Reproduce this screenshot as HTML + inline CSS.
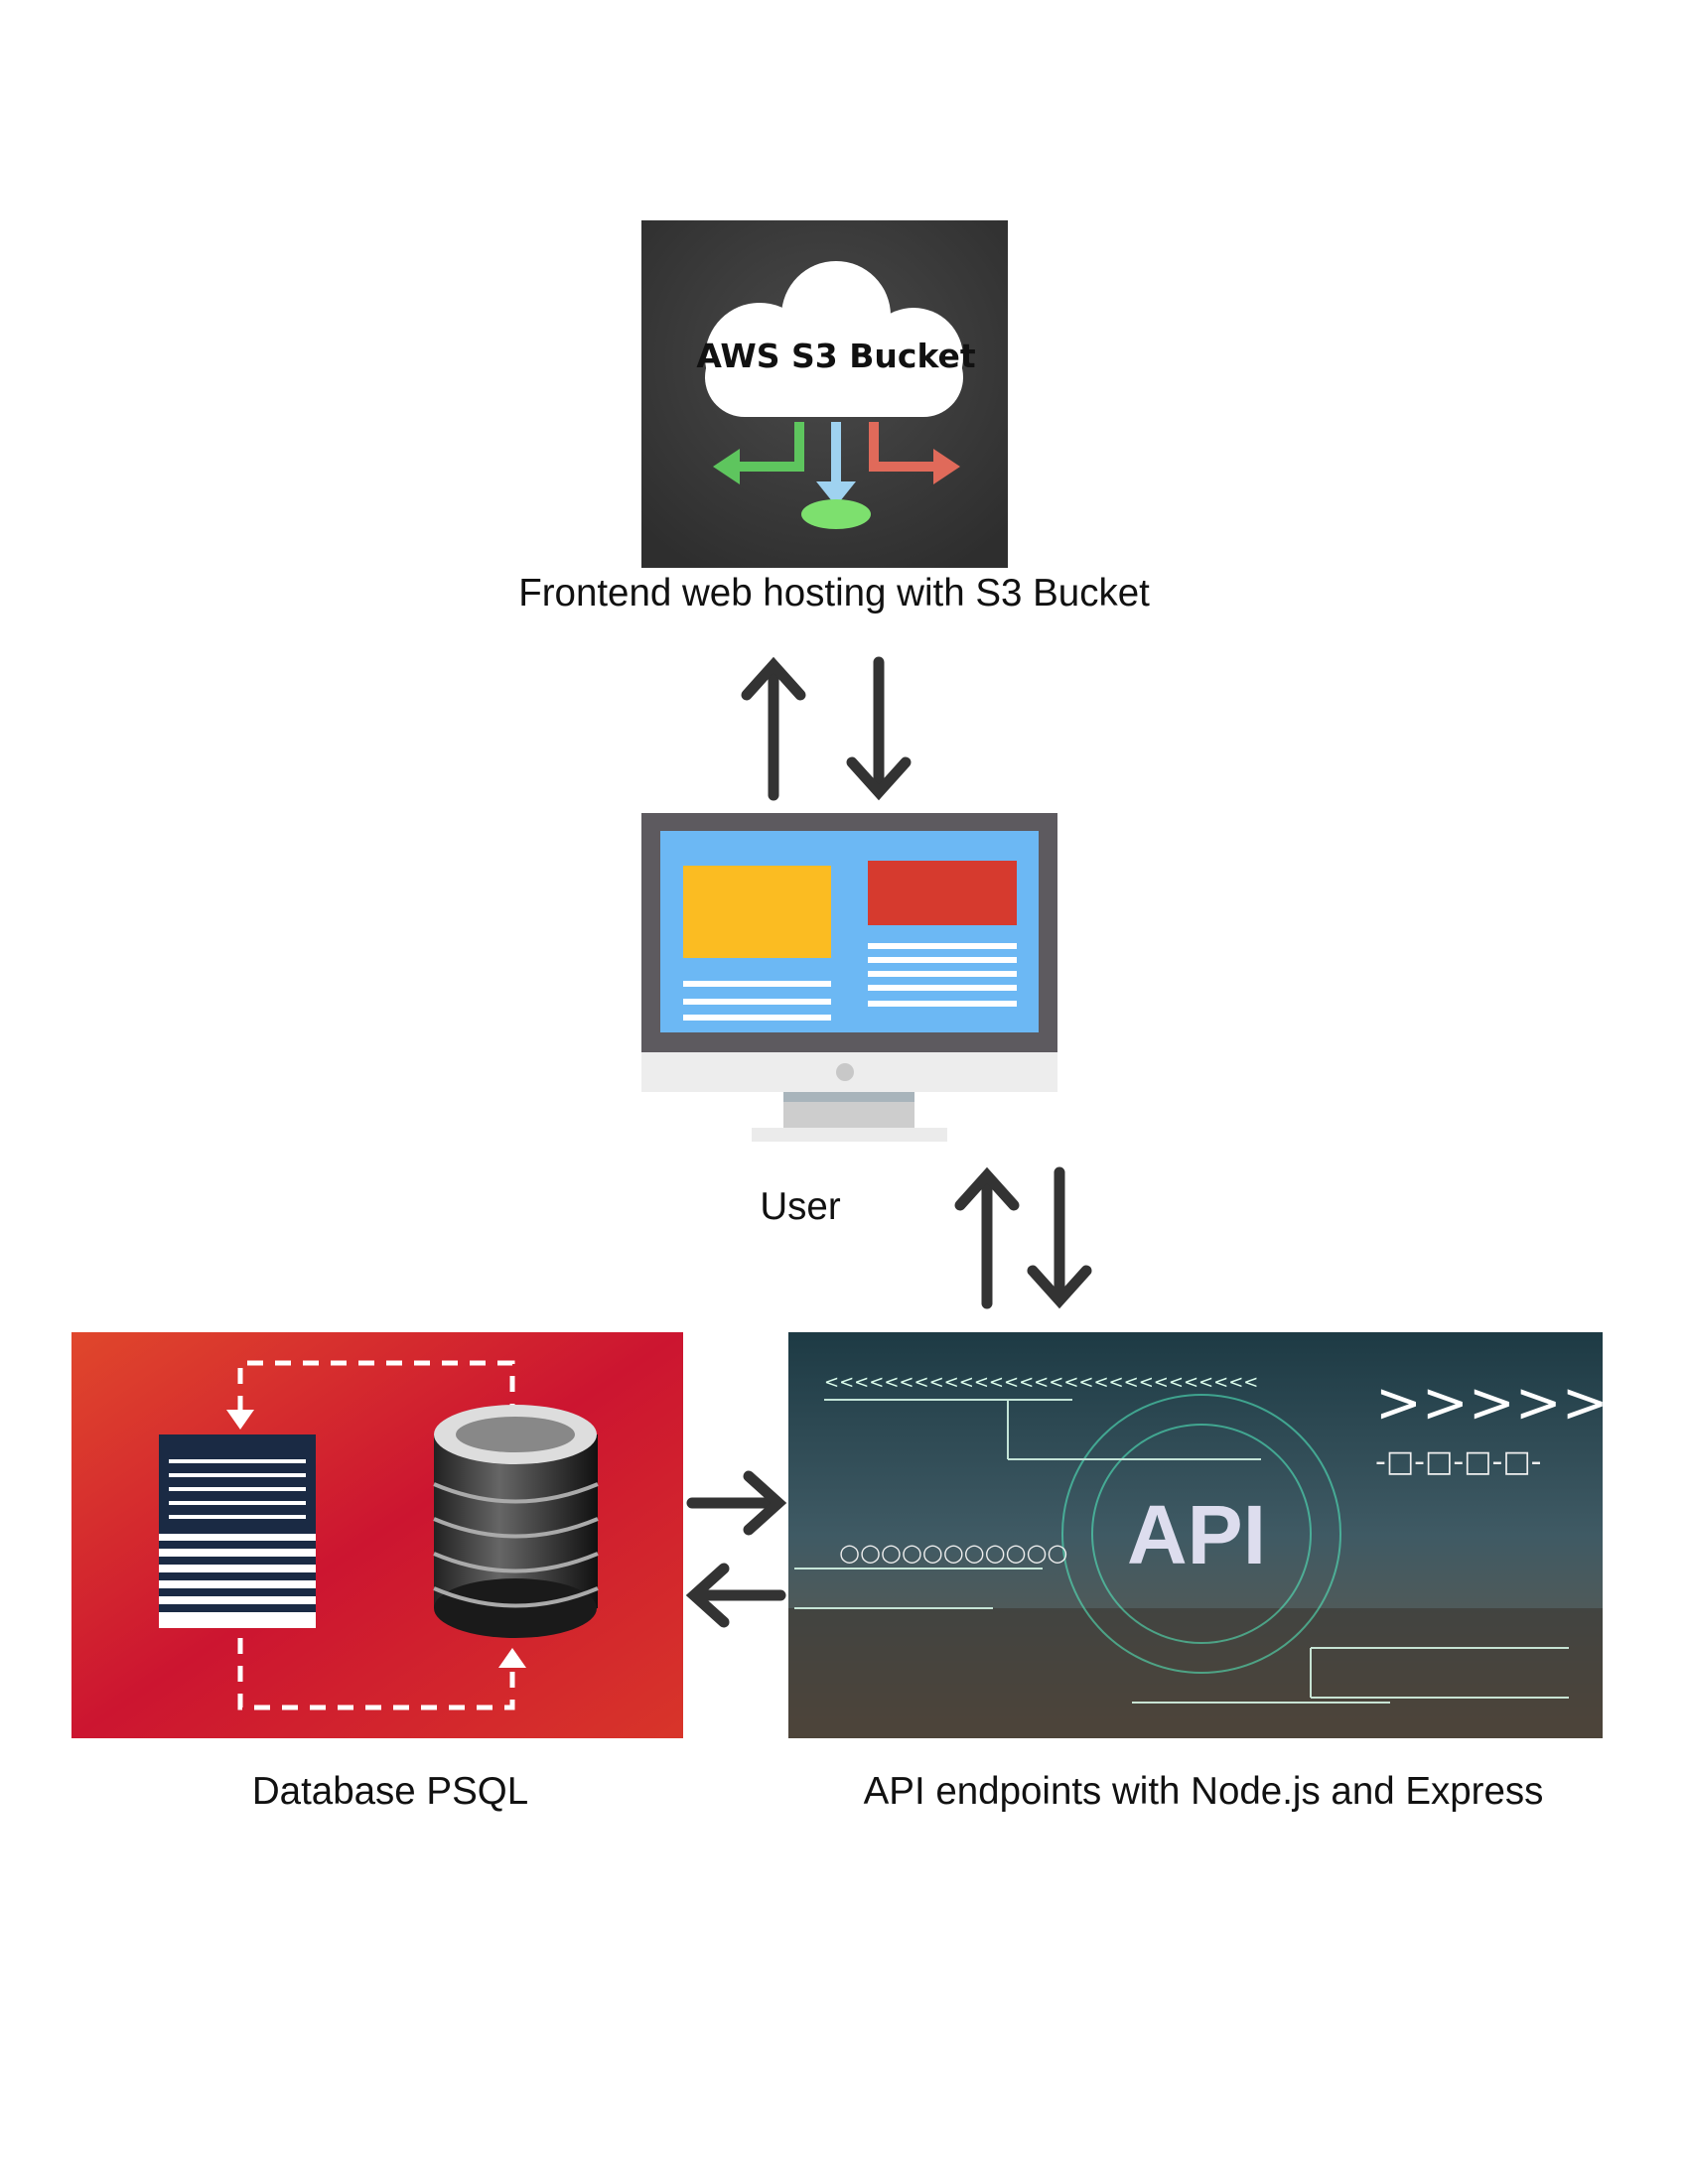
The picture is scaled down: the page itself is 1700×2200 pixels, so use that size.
<!DOCTYPE html>
<html><head><meta charset="utf-8"><style>
html,body{margin:0;padding:0;background:#fff;}
.lbl{position:absolute;font-family:"Liberation Sans",sans-serif;font-size:38.5px;color:#111;white-space:nowrap;transform:translateX(-50%);}
</style></head><body>
<div style="position:relative;width:1700px;height:2200px;overflow:hidden;">
<svg width="1700" height="2200" style="position:absolute;left:0;top:0">
<defs>
<radialGradient id="s3bg" cx="50%" cy="40%" r="70%"><stop offset="0" stop-color="#4a4a4a"/><stop offset="1" stop-color="#2e2e2e"/></radialGradient>
<linearGradient id="dbbg" x1="0" y1="0" x2="1" y2="1"><stop offset="0" stop-color="#e0472c"/><stop offset="0.5" stop-color="#cc1530"/><stop offset="1" stop-color="#d8352a"/></linearGradient>
<linearGradient id="apibg" x1="0" y1="0" x2="0" y2="1"><stop offset="0" stop-color="#1d3a44"/><stop offset="0.5" stop-color="#3f5a64"/><stop offset="1" stop-color="#6a5a48"/></linearGradient>
<linearGradient id="cyl" x1="0" y1="0" x2="1" y2="0"><stop offset="0" stop-color="#222"/><stop offset="0.4" stop-color="#666"/><stop offset="1" stop-color="#111"/></linearGradient>
</defs>
<rect x="646" y="222" width="369" height="350" fill="url(#s3bg)"/>
<g fill="#fff">
<circle cx="842" cy="318" r="55"/><circle cx="765" cy="360" r="55"/><circle cx="920" cy="360" r="50"/>
<rect x="710" y="340" width="260" height="80" rx="40"/>
</g>
<text x="842" y="370" font-family="DejaVu Sans,sans-serif" font-weight="bold" font-size="33" text-anchor="middle" fill="#111">AWS S3 Bucket</text>
<path d="M805 425 V470 H740" stroke="#5ec55e" stroke-width="10" fill="none"/><path d="M745 452 L718 470 L745 488Z" fill="#5ec55e"/>
<path d="M842 425 V490" stroke="#9fd2f0" stroke-width="10" fill="none"/><path d="M822 485 L842 510 L862 485Z" fill="#9fd2f0"/>
<ellipse cx="842" cy="518" rx="35" ry="15" fill="#7de06e"/>
<path d="M880 425 V470 H945" stroke="#e06a5a" stroke-width="10" fill="none"/><path d="M940 452 L967 470 L940 488Z" fill="#e06a5a"/>
<g stroke="#333" stroke-width="11" fill="none" stroke-linecap="round">
<line x1="779" y1="801" x2="779" y2="672"/><path d="M752 700 L779 670 L806 700"/>
<line x1="885" y1="667" x2="885" y2="796"/><path d="M858 768 L885 798 L912 768"/>
<line x1="994" y1="1313" x2="994" y2="1186"/><path d="M967 1214 L994 1184 L1021 1214"/>
<line x1="1067" y1="1181" x2="1067" y2="1308"/><path d="M1040 1280 L1067 1310 L1094 1280"/>
<line x1="697" y1="1514" x2="782" y2="1514"/><path d="M754 1487 L784 1514 L754 1541"/>
<line x1="786" y1="1607" x2="701" y2="1607"/><path d="M729 1580 L699 1607 L729 1634"/>
</g>
<rect x="646" y="819" width="419" height="241" fill="#5d5a5f"/>
<rect x="665" y="837" width="381" height="203" fill="#6cb8f4"/>
<rect x="688" y="872" width="149" height="93" fill="#fbbc22"/>
<rect x="874" y="867" width="150" height="65" fill="#d63a2e"/>
<g fill="#fff"><rect x="688" y="988" width="149" height="6"/><rect x="688" y="1006" width="149" height="6"/><rect x="688" y="1022" width="149" height="6"/>
<rect x="874" y="950" width="150" height="6"/><rect x="874" y="964" width="150" height="6"/><rect x="874" y="978" width="150" height="6"/><rect x="874" y="992" width="150" height="6"/><rect x="874" y="1008" width="150" height="6"/></g>
<rect x="646" y="1060" width="419" height="40" fill="#ededed"/>
<circle cx="851" cy="1080" r="9" fill="#c8c8c8"/>
<rect x="789" y="1100" width="132" height="36" fill="#cdcdcd"/><rect x="789" y="1100" width="132" height="10" fill="#a8b4bb"/>
<rect x="757" y="1136" width="197" height="14" fill="#ebebeb"/>
<rect x="72" y="1342" width="616" height="409" fill="url(#dbbg)"/>
<path d="M242 1422 V1373 H516 V1422 M242 1650 V1720 H516 V1680" stroke="#fff" stroke-width="5" stroke-dasharray="16 12" fill="none"/>
<path d="M228 1420 L256 1420 L242 1440Z M502 1680 L530 1680 L516 1660Z" fill="#fff"/>
<rect x="160" y="1445" width="158" height="195" fill="#fff"/>
<rect x="160" y="1445" width="158" height="100" fill="#1a2a44"/>
<g fill="#fff"><rect x="170" y="1470" width="138" height="4"/><rect x="170" y="1484" width="138" height="4"/><rect x="170" y="1498" width="138" height="4"/><rect x="170" y="1512" width="138" height="4"/><rect x="170" y="1526" width="138" height="4"/></g>
<g fill="#1a2a44"><rect x="160" y="1552" width="158" height="8"/><rect x="160" y="1568" width="158" height="8"/><rect x="160" y="1584" width="158" height="8"/><rect x="160" y="1600" width="158" height="8"/><rect x="160" y="1616" width="158" height="8"/></g>
<rect x="437" y="1445" width="165" height="175" fill="url(#cyl)"/>
<ellipse cx="519" cy="1620" rx="82" ry="30" fill="#1a1a1a"/>
<g stroke="#aaa" stroke-width="4" fill="none"><path d="M437 1495 Q519 1530 602 1495"/><path d="M437 1530 Q519 1565 602 1530"/><path d="M437 1565 Q519 1600 602 1565"/><path d="M437 1600 Q519 1635 602 1600"/></g>
<ellipse cx="519" cy="1445" rx="82" ry="30" fill="#ddd"/><ellipse cx="519" cy="1445" rx="60" ry="18" fill="#888"/>
<rect x="794" y="1342" width="820" height="409" fill="url(#apibg)"/>
<rect x="794" y="1620" width="820" height="131" fill="#3a3530" opacity="0.6"/>
<g stroke="#dfe" stroke-width="2" fill="none" opacity="0.85">
<circle cx="1210" cy="1545" r="140" stroke="#5fc" opacity="0.6"/><circle cx="1210" cy="1545" r="110" stroke="#5fc" opacity="0.6"/>
<line x1="830" y1="1410" x2="1080" y2="1410"/><line x1="1015" y1="1410" x2="1015" y2="1470"/><line x1="1015" y1="1470" x2="1270" y2="1470"/>
<line x1="1320" y1="1710" x2="1580" y2="1710"/><line x1="1140" y1="1715" x2="1400" y2="1715"/>
<line x1="1320" y1="1660" x2="1580" y2="1660"/><line x1="1320" y1="1660" x2="1320" y2="1710"/>
<line x1="800" y1="1580" x2="1050" y2="1580"/><line x1="800" y1="1620" x2="1000" y2="1620"/>
</g>
<text x="830" y="1398" font-family="DejaVu Sans,sans-serif" font-size="18" fill="#dfe">&lt;&lt;&lt;&lt;&lt;&lt;&lt;&lt;&lt;&lt;&lt;&lt;&lt;&lt;&lt;&lt;&lt;&lt;&lt;&lt;&lt;&lt;&lt;&lt;&lt;&lt;&lt;&lt;&lt;</text>
<text x="1385" y="1432" font-family="DejaVu Sans,sans-serif" font-size="56" fill="#fff">&gt;&gt;&gt;&gt;&gt;&gt;&gt;</text>
<text x="1385" y="1482" font-family="DejaVu Sans,sans-serif" font-size="30" fill="#eee">-□-□-□-□-</text>
<text x="845" y="1572" font-family="DejaVu Sans,sans-serif" font-size="24" fill="#eee">○○○○○○○○○○○</text>
<text x="1135" y="1575" font-family="Liberation Sans,sans-serif" font-weight="bold" font-size="84" fill="#dde">API</text>
</svg>
<div class="lbl" style="left:840px;top:576px">Frontend web hosting with S3 Bucket</div>
<div class="lbl" style="left:806px;top:1194px">User</div>
<div class="lbl" style="left:393px;top:1783px">Database PSQL</div>
<div class="lbl" style="left:1212px;top:1783px">API endpoints with Node.js and Express</div>
</div>
</body></html>
